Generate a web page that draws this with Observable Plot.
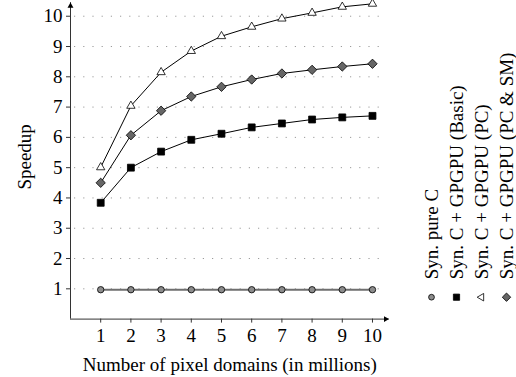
<!DOCTYPE html>
<html><head><meta charset="utf-8">
<script src="https://cdn.jsdelivr.net/npm/d3@7"></script>
<script src="https://cdn.jsdelivr.net/npm/@observablehq/plot@0.6"></script>
<style>
body{margin:0;background:#fff;}
#wrap{position:relative;width:516px;height:377px;font-family:"Liberation Serif",serif;}
#wrap svg{position:absolute;top:0;left:0;overflow:visible;}
#wrap svg, #wrap svg text, #wrap svg g{font-family:"Liberation Serif","Times New Roman",serif !important;}
</style></head><body><div id="wrap"></div>
<script>
// ---- data ----
const domains = [1, 2, 3, 4, 5, 6, 7, 8, 9, 10];
const seriesNames = ["Syn. pure C", "Syn. C + GPGPU (Basic)", "Syn. C + GPGPU (PC)", "Syn. C + GPGPU (PC & SM)"];
const pureC      = [0.97, 0.97, 0.97, 0.97, 0.97, 0.97, 0.97, 0.97, 0.97, 0.97];
const gpgpuBasic = [3.84, 5.00, 5.53, 5.92, 6.12, 6.33, 6.46, 6.59, 6.66, 6.71];
const gpgpuPC    = [5.01, 7.04, 8.15, 8.85, 9.34, 9.65, 9.92, 10.11, 10.31, 10.41];
const gpgpuPCSM  = [4.50, 6.07, 6.88, 7.35, 7.67, 7.91, 8.11, 8.23, 8.34, 8.43];
const xTicks = [1, 2, 3, 4, 5, 6, 7, 8, 9, 10];
const yTicks = [1, 2, 3, 4, 5, 6, 7, 8, 9, 10];
const xLabel = "Number of pixel domains (in millions)";
const yLabel = "Speedup";

// ---- styles ----
const seriesValues = [pureC, gpgpuBasic, gpgpuPC, gpgpuPCSM];
const styles = [
  {symbol: "circle",   fill: "#8c8c8c", r: 3.2, line: "#6f6f6f", lw: 2},
  {symbol: "square",   fill: "#000000", r: 3.9, line: "#000000", lw: 1},
  {symbol: "triangle", fill: "#ffffff", r: 3.1, line: "#000000", lw: 1},
  {symbol: "diamond2", fill: "#666666", r: 4.2, line: "#000000", lw: 1}
];
const FONT = "Liberation Serif";
const FS = 19;
const xMax = 10.55, yMax = 10.45;

const tables = seriesNames.map((name, i) =>
  domains.map((x, j) => ({series: name, x, y: seriesValues[i][j]})));

const seriesMarks = tables.flatMap((data, i) => [
  Plot.line(data, {x: "x", y: "y", stroke: styles[i].line, strokeWidth: styles[i].lw}),
  Plot.dot(data, {x: "x", y: "y", symbol: styles[i].symbol, r: styles[i].r,
    fill: styles[i].fill, stroke: "#000", strokeWidth: 0.8})
]);

const main = Plot.plot({
  width: 516, height: 377,
  marginLeft: 70, marginRight: 127.4, marginTop: 2.1, marginBottom: 58.4,
  style: {fontFamily: FONT, fontSize: FS + "px", background: "transparent", color: "#000"},
  x: {domain: [0, xMax]},
  y: {domain: [0, yMax]},
  marks: [
    Plot.gridY(yTicks, {stroke: "#9a9a9a", strokeOpacity: 1, strokeWidth: 1, strokeDasharray: "1.2,8", insetLeft: 4, insetRight: 5}),
    Plot.axisY(yTicks, {tickSize: 4, tickPadding: 4, fontSize: FS, fontFamily: FONT, label: null, stroke: "#333"}),
    Plot.axisX(xTicks, {tickSize: 4, tickPadding: 5, fontSize: FS, fontFamily: FONT, label: null, stroke: "#333"}),
    Plot.ruleX([0], {y1: 0, y2: yMax, stroke: "#333", strokeWidth: 1}),
    Plot.ruleY([0], {x1: 0, x2: xMax, stroke: "#333", strokeWidth: 1}),
    Plot.dot([0], {x: 0, y: yMax, symbol: "triangle", r: 2.2, fill: "#000", dy: 3.4}),
    Plot.dot([0], {x: xMax, y: 0, symbol: "triangle", r: 2.2, fill: "#000", rotate: 90, dx: -3.4}),
    ...seriesMarks,
    Plot.text([xLabel], {text: d => d, frameAnchor: "bottom", textAnchor: "middle", lineAnchor: "bottom", dy: 52, fontSize: FS, fontFamily: FONT}),
    Plot.text([yLabel], {text: d => d, frameAnchor: "left", textAnchor: "middle", rotate: -90, lineAnchor: "middle", dx: -46, dy: -4, fontSize: FS, fontFamily: FONT})
  ]
});

const legend = Plot.plot({
  width: 116, height: 377,
  marginLeft: 30, marginRight: 10, marginTop: 0, marginBottom: 80.3,
  style: {fontFamily: FONT, fontSize: FS + "px", background: "transparent"},
  x: {type: "point", domain: seriesNames, padding: 0, axis: null},
  marks: [
    ...seriesNames.map((name, i) => Plot.dot([name], {x: d => d, frameAnchor: "bottom",
      symbol: styles[i].symbol, r: styles[i].r * 0.9, fill: styles[i].fill, stroke: "#000", strokeWidth: 0.8, rotate: -90})),
    Plot.text(seriesNames, {x: d => d, text: d => d, frameAnchor: "bottom", rotate: -90,
      textAnchor: "start", lineAnchor: "middle", dy: -18, fontSize: FS, fontFamily: FONT, fill: "#000"})
  ]
});
legend.style.left = "400px";

const wrap = document.getElementById("wrap");
wrap.appendChild(main);
wrap.appendChild(legend);
</script></body></html>
